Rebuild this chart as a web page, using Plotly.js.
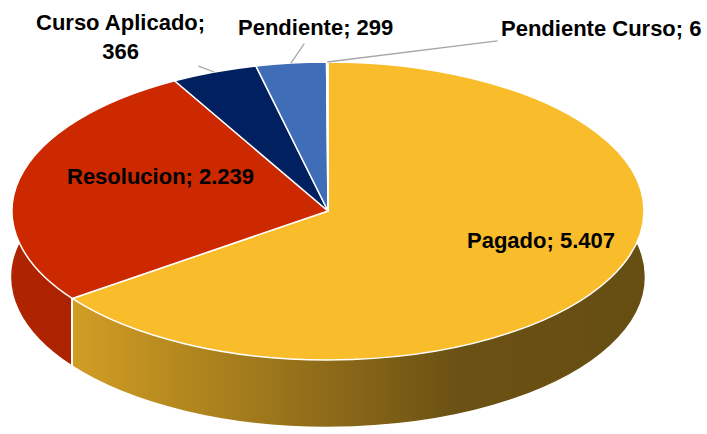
<!DOCTYPE html>
<html><head><meta charset="utf-8">
<script src="https://cdn.plot.ly/plotly-3.0.1.min.js"></script>
<style>html,body{margin:0;padding:0;background:#fff}#c{width:707px;height:434px}</style>
</head><body><div id="c"></div>
<script>
const labels = ["Pagado", "Resolucion", "Curso Aplicado", "Pendiente", "Pendiente Curso"];
const values = [5407, 2239, 366, 299, 6];
const colors = ["#F9BC2B", "#CC2900", "#002060", "#3F6DB8", "#8FB4E3"];

// ---- layout (pixels) ----
const W = 707, H = 434;
const EX = 328, EY = 211;      // centre of the top face (ellipse)
const A = 316, B = 149;        // ellipse semi-axes
const DEPTH = 66;              // thickness of the 3D wall
const R = 150;                 // radius of the drawn pie before squashing
// label centres [x, y] in pixels, and whether to draw a leader line
const labelPos = [[541, 240], [160, 176], [120, 37], [315, 28], [601, 28]];
const leader = [false, false, true, true, true];

function fmt(v){ return v.toString().replace(/\B(?=(\d{3})+(?!\d))/g, "."); }
const texts = labels.map((l,i)=> (l==="Curso Aplicado" ? l+";<br>"+fmt(values[i]) : l+"; "+fmt(values[i])));

const total = values.reduce((a,b)=>a+b,0);
const startAng = [], endAng = [];
let cum = 0;
values.forEach(v => { startAng.push(cum/total*360); cum += v; endAng.push(cum/total*360); });

const font = {family: "Liberation Sans, Arial, sans-serif", size: 22, color: "#000", weight: "bold"};
const annotations = values.map((v,i)=>{
  const mid = (startAng[i]+endAng[i])/2 * Math.PI/180;
  const [lx, ly] = labelPos[i];
  if (!leader[i]) {
    return {xref:"paper", yref:"paper", x: lx/W, y: 1-ly/H, xanchor:"center", yanchor:"middle",
            text: texts[i], showarrow:false, font: font};
  }
  const px = EX + A*Math.sin(mid), py = EY - B*Math.cos(mid);
  return {xref:"paper", yref:"paper", x: px/W, y: 1-py/H, text: texts[i], font: font,
          showarrow:true, arrowhead:0, arrowwidth:1.3, arrowcolor:"#A6A6A6",
          ax: lx-px, ay: ly-py, standoff: 0, startstandoff: 2};
});

const domain = {x: [(EX-R)/W, (EX+R)/W], y: [1-(EY+R)/H, 1-(EY-R)/H]};
const common = {type:"pie", labels: labels, values: values, textinfo:"none", textposition:"none",
  sort:false, direction:"clockwise", rotation:0, domain: domain, hoverinfo:"none"};

Plotly.newPlot("c", [
  Object.assign({}, common, {name:"wall", marker:{colors: colors, line:{width:0}}}),
  Object.assign({}, common, {name:"top", marker:{colors: colors, line:{color:"#ffffff", width:1.5}}})
], {
  width: W, height: H,
  margin: {l: 0, r: 0, t: 0, b: 0},
  showlegend: false,
  paper_bgcolor: "#fff",
  annotations: annotations
}, {displayModeBar: false, staticPlot: true}).then(gd => {
  const NS = "http://www.w3.org/2000/svg";
  const traces = gd.querySelectorAll(".pielayer .trace");
  const wall = traces[0], top = traces[1];
  const bb = top.getBBox();
  const cx0 = bb.x + bb.width/2, cy0 = bb.y + bb.height/2, r0 = bb.width/2;

  // lighting of the wall, left (0) to right (1)
  const light = [[0,0.86],[0.1,0.84],[0.3,0.70],[0.5,0.57],[0.7,0.43],[1,0.41]];
  function L(f){ for (let k=1;k<light.length;k++){ if (f<=light[k][0]){ const [a0,v0]=light[k-1],[a1,v1]=light[k]; return v0+(v1-v0)*(f-a0)/(a1-a0);} } return light[light.length-1][1]; }
  function shade(hex,f){ const n=parseInt(hex.slice(1),16), k=L(f); const r=Math.round(((n>>16)&255)*k), g=Math.round(((n>>8)&255)*k), b=Math.round((n&255)*k); return `rgb(${r},${g},${b})`; }

  // wall segments (visible front half only), left to right
  const segs = [];
  values.forEach((v,i)=>{
    const t0 = Math.max(startAng[i], 90), t1 = Math.min(endAng[i], 270);
    if (t1 <= t0) return;
    const fa = (1+Math.sin(t1*Math.PI/180))/2, fb = (1+Math.sin(t0*Math.PI/180))/2;
    segs.push({lo: Math.min(fa,fb), hi: Math.max(fa,fb), c: colors[i]});
  });
  segs.sort((a,b)=>a.lo-b.lo);
  const out = [];
  const e = 0.0016;
  segs.forEach((s,j)=>{
    const lo = j>0 ? s.lo + e : s.lo, hi = j<segs.length-1 ? s.hi - e : s.hi;
    if (j>0) { out.push([s.lo - e, "#ffffff"]); out.push([s.lo + e, "#ffffff"]); }
    const n = 12;
    for (let k=0;k<=n;k++){ const f = lo + (hi-lo)*k/n; out.push([f, shade(s.c, f)]); }
  });

  const grad = document.createElementNS(NS, "linearGradient");
  grad.setAttribute("id","wallGrad");
  grad.setAttribute("gradientUnits","userSpaceOnUse");
  grad.setAttribute("x1", cx0 - r0); grad.setAttribute("x2", cx0 + r0);
  grad.setAttribute("y1", cy0); grad.setAttribute("y2", cy0);
  out.forEach(([f,c])=>{ const s=document.createElementNS(NS,"stop"); s.setAttribute("offset", Math.min(1,Math.max(0,f))); s.setAttribute("stop-color", c); grad.appendChild(s); });
  const defs = document.createElementNS(NS, "defs");
  defs.appendChild(grad);
  const svg = gd.querySelector("svg.main-svg");
  svg.insertBefore(defs, svg.firstChild);

  const sx = A/r0, sy = B/r0;
  top.setAttribute("transform", `translate(${EX},${EY}) scale(${sx},${sy}) translate(${-cx0},${-cy0})`);
  wall.setAttribute("transform", `translate(${EX},${EY+DEPTH}) scale(${sx},${sy}) translate(${-cx0},${-cy0})`);
  wall.querySelectorAll("path.surface").forEach(p => {
    p.style.fill = "url(#wallGrad)"; p.style.stroke = "url(#wallGrad)";
    p.style.strokeWidth = "1.5"; p.style.vectorEffect = "non-scaling-stroke";
  });
  top.querySelectorAll("path.surface").forEach(p => { p.style.vectorEffect = "non-scaling-stroke"; });
});
</script></body></html>
